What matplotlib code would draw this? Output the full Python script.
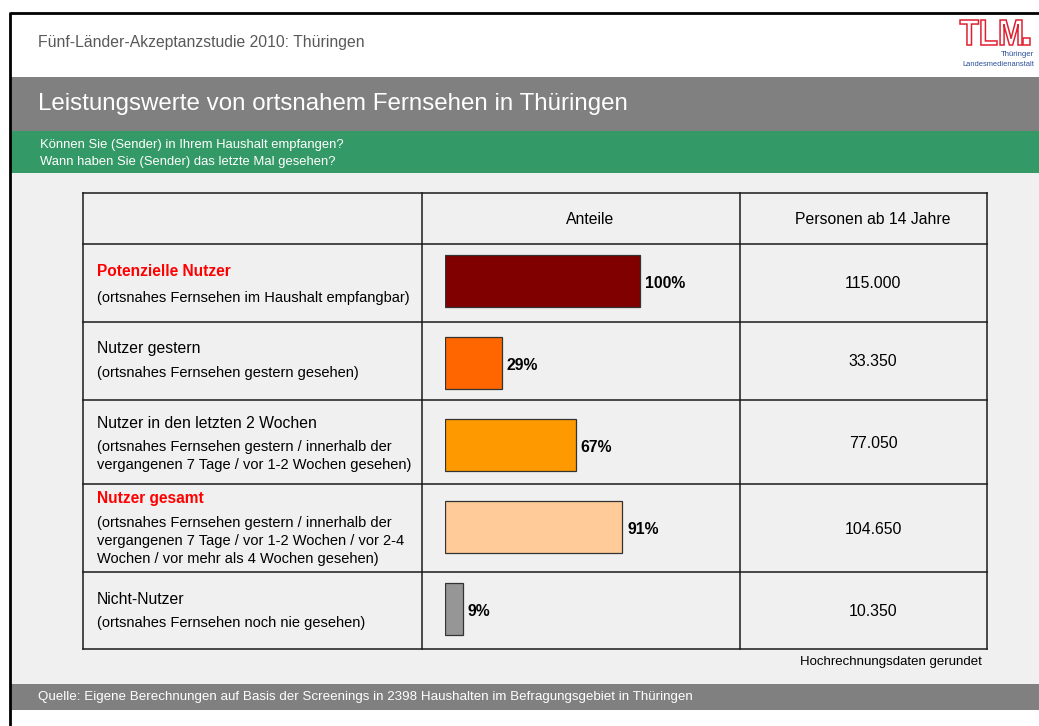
import matplotlib
matplotlib.use("Agg")
import matplotlib.pyplot as plt
from matplotlib.patches import Rectangle, PathPatch
from matplotlib.textpath import TextPath
from matplotlib.font_manager import FontProperties
from matplotlib.transforms import Affine2D

plt.rcParams['font.family'] = ['Liberation Sans', 'DejaVu Sans']

# ---------------- data ----------------
header_title = "Fünf-Länder-Akzeptanzstudie 2010: Thüringen"
main_title = "Leistungswerte von ortsnahem Fernsehen in Thüringen"
questions = ["Können Sie (Sender) in Ihrem Haushalt empfangen?",
             "Wann haben Sie (Sender) das letzte Mal gesehen?"]
col_headers = ["Anteile", "Personen ab 14 Jahre"]
categories = ["Potenzielle Nutzer", "Nutzer gestern", "Nutzer in den letzten 2 Wochen",
              "Nutzer gesamt", "Nicht-Nutzer"]
highlight = [True, False, False, True, False]
descriptions = [
    ["(ortsnahes Fernsehen im Haushalt empfangbar)"],
    ["(ortsnahes Fernsehen gestern gesehen)"],
    ["(ortsnahes Fernsehen gestern / innerhalb der",
     "vergangenen 7 Tage / vor 1-2 Wochen gesehen)"],
    ["(ortsnahes Fernsehen gestern / innerhalb der",
     "vergangenen 7 Tage / vor 1-2 Wochen / vor 2-4",
     "Wochen / vor mehr als 4 Wochen gesehen)"],
    ["(ortsnahes Fernsehen noch nie gesehen)"],
]
shares = [100, 29, 67, 91, 9]
persons = ["115.000", "33.350", "77.050", "104.650", "10.350"]
note = "Hochrechnungsdaten gerundet"
source = "Quelle: Eigene Berechnungen auf Basis der Screenings in 2398 Haushalten im Befragungsgebiet in Thüringen"
logo_text = ["TLM", "Thüringer", "Landesmedienanstalt"]
bar_colors = ["#800000", "#FF6600", "#FF9900", "#FFCC99", "#969696"]

# ---------------- figure ----------------
W, H = 1039, 726
fig = plt.figure(figsize=(W / 100, H / 100), dpi=100)
fig.patch.set_facecolor("white")
bg = fig.add_axes([0, 0, 1, 1])
bg.set_xlim(0, W)
bg.set_ylim(H, 0)
bg.axis("off")

def rect(x0, y0, x1, y1, color, **kw):
    bg.add_patch(Rectangle((x0, y0), x1 - x0, y1 - y0, facecolor=color,
                           edgecolor="none", **kw))

rect(10, 173, W, 684, "#F0F0F0")
rect(10, 77, W, 131, "#808080")
rect(10, 131, W, 173, "#339966")
rect(10, 684, W, 710, "#808080")
bg.plot([10, W], [13, 13], color="black", lw=2.0, solid_capstyle="butt")
bg.plot([10, 10], [12, H], color="black", lw=2.0, solid_capstyle="butt")

# header texts
bg.text(38, 42, header_title, fontsize=11.3, color="#595959", va="center", ha="left")
bg.text(38, 104, main_title, fontsize=17.4, color="white", va="center", ha="left")
bg.text(40, 145, questions[0], fontsize=9.4, color="white", va="center", ha="left")
bg.text(40, 161.5, questions[1], fontsize=9.4, color="white", va="center", ha="left")
bg.text(38, 697, source, fontsize=9.6, color="white", va="center", ha="left")
bg.text(982, 662, note, fontsize=9.5, color="black", va="center", ha="right")

# logo: outlined condensed letters scaled into a box
tp = TextPath((0, 0), logo_text[0], size=10, prop=FontProperties(family="Liberation Sans", weight="bold"))
ext = tp.get_extents()
lx0, lx1, ly_top, ly_bot = 960, 1022, 20, 45
tr = (Affine2D().translate(-ext.x0, -ext.y0)
      .scale((lx1 - lx0) / ext.width, -(ly_bot - ly_top) / ext.height)
      .translate(lx0, ly_bot))
bg.add_patch(PathPatch(tr.transform_path(tp), facecolor="white", edgecolor="#E02030", lw=1.1))
bg.add_patch(Rectangle((1023, 38), 7, 7, facecolor="white", edgecolor="#E02030", lw=1.1))
bg.text(1034, 55, logo_text[1], fontsize=5.6, color="#2A4E9A", va="center", ha="right")
bg.text(1034, 64, logo_text[2], fontsize=5.4, color="#2A4E9A", va="center", ha="right")

# table grid
tx0, tx1, tx2, tx3 = 82.5, 421.5, 740, 987
row_lines = [193, 244, 322, 400, 483.5, 571.5, 649]
lc = "#1A1A1A"
for y in row_lines:
    bg.plot([tx0, tx3], [y, y], color=lc, lw=1.1)
for x in [tx0, tx1, tx2, tx3]:
    bg.plot([x, x], [row_lines[0], row_lines[-1]], color=lc, lw=1.1)

bg.text(590, 219, col_headers[0], fontsize=11.3, color="black", ha="center", va="center")
bg.text(873, 219, col_headers[1], fontsize=11.3, color="black", ha="center", va="center")

title_y = [272, 349, 423, 499, 599]
desc_y = [298, 373, 447, 523, 623]
value_y = [284, 362, 443, 529, 611]
for i, cat in enumerate(categories):
    if highlight[i]:
        bg.text(97, title_y[i], cat, fontsize=11.2, fontweight="bold", color="#FF0000",
                ha="left", va="center")
    else:
        bg.text(97, title_y[i], cat, fontsize=11.3, color="black", ha="left", va="center")
    for j, line in enumerate(descriptions[i]):
        bg.text(97, desc_y[i] + 18 * j, line, fontsize=10.5, color="black",
                ha="left", va="center")
    bg.text(873, value_y[i], persons[i], fontsize=11.4, color="black",
            ha="center", va="center")

# bar axes: 0% at x=445px, 1.95 px per percent; rows every 82 px from y=240
x0_px, px_per = 445, 1.95
ax_w_px = tx2 - x0_px
top_px, bot_px = 240, 650
ax = fig.add_axes([x0_px / W, 1 - bot_px / H, ax_w_px / W, (bot_px - top_px) / H])
ax.set_xlim(0, ax_w_px / px_per)
ax.set_ylim(len(shares) - 0.5, -0.5)
ax.axis("off")
ax.patch.set_alpha(0)
ypos = list(range(len(shares)))
ax.barh(ypos, shares, height=0.625, color=bar_colors, edgecolor="#333333", linewidth=0.9)
for y, v in zip(ypos, shares):
    ax.annotate(f"{v}%", xy=(v, y), xytext=(5, -2), textcoords="offset pixels",
                fontsize=11.3, fontweight="bold", ha="left", va="center", color="black")

fig.savefig("out.png", dpi=100, facecolor="white")
